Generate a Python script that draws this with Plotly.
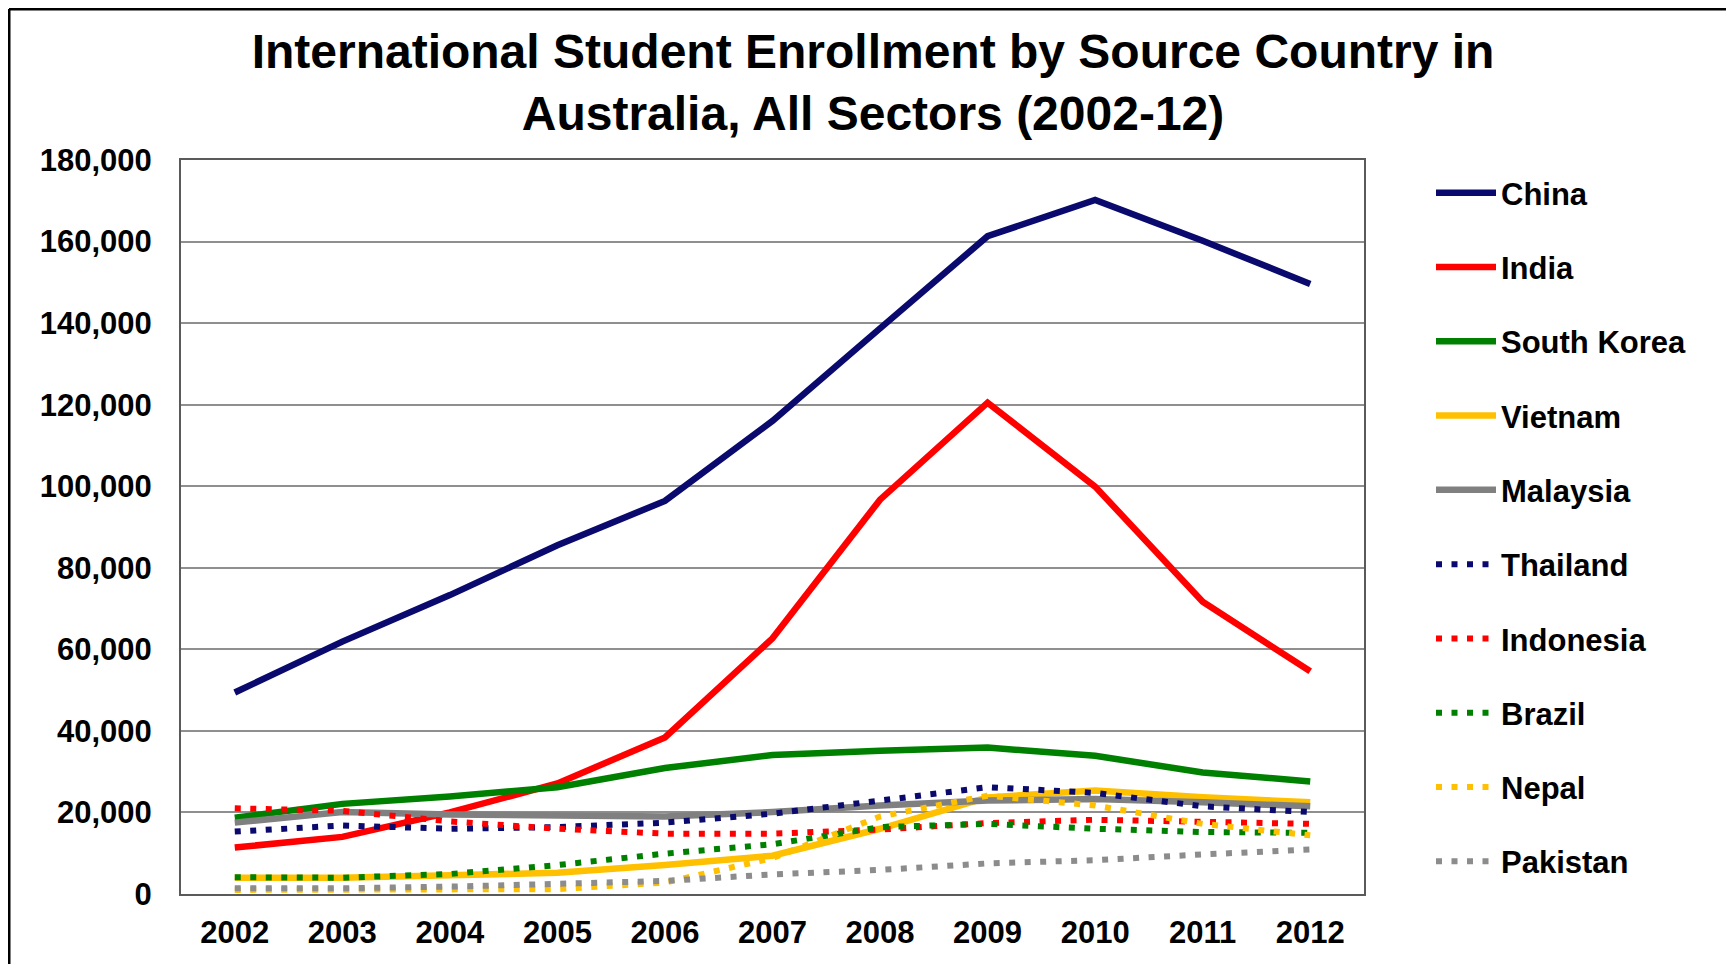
import plotly.graph_objects as go

years = ["2002", "2003", "2004", "2005", "2006", "2007", "2008", "2009", "2010", "2011", "2012"]

china = [49400, 61900, 73300, 85500, 96400, 116000, 138700, 161300, 170200, 160200, 149600]
india = [11400, 14000, 20000, 27100, 38400, 62700, 96700, 120500, 99900, 71700, 54600]
south_korea = [18700, 22100, 23900, 26200, 30900, 34100, 35100, 35900, 33900, 29800, 27600]
vietnam = [4000, 4000, 4600, 5200, 7100, 9400, 16000, 23700, 25400, 23700, 22500]
malaysia = [17500, 20100, 19500, 19300, 19000, 20100, 21700, 22900, 23300, 22500, 21500]
thailand = [15300, 16800, 16000, 16400, 17500, 19700, 22900, 26200, 24800, 21500, 20100]
indonesia = [21000, 20400, 17800, 16000, 14800, 14800, 15800, 17400, 18200, 17600, 17200]
brazil = [4100, 4000, 4900, 7100, 9900, 12200, 16400, 17200, 16000, 15200, 15000]
nepal = [1000, 1000, 1200, 1200, 2800, 8800, 19000, 24100, 21700, 17200, 14400]
pakistan = [1400, 1400, 1800, 2400, 3200, 4800, 5900, 7500, 8300, 9700, 10900]

series = [
    ("China", china, "#0A0A6E", "solid"),
    ("India", india, "#FF0000", "solid"),
    ("South Korea", south_korea, "#008000", "solid"),
    ("Vietnam", vietnam, "#FFC000", "solid"),
    ("Malaysia", malaysia, "#808080", "solid"),
    ("Thailand", thailand, "#0A0A6E", "6px,9.5px"),
    ("Indonesia", indonesia, "#FF0000", "6px,9.5px"),
    ("Brazil", brazil, "#008000", "6px,9.5px"),
    ("Nepal", nepal, "#FFC000", "6px,9.5px"),
    ("Pakistan", pakistan, "#8C8C8C", "6px,9.5px"),
]

FONT = "Liberation Sans, Arial, sans-serif"

fig = go.Figure()
for name, vals, color, dash in series:
    fig.add_trace(go.Scatter(
        x=years, y=vals, name=name, mode="lines",
        line=dict(color=color, width=6.5 if dash == "solid" else 6, dash=dash),
        legendgroup=name,
    ))

# plot area geometry in figure pixels (page has an 8px body offset)
L, R, T, B = 173, 1356, 152, 886
W, H = 1734, 964

def px_x(p):
    return (p - L) / (R - L)

def px_y(p):
    return (B - p) / (B - T)

fig.update_layout(
    width=W, height=H,
    margin=dict(l=L, r=W - R, t=T, b=H - B, autoexpand=False),
    paper_bgcolor="white", plot_bgcolor="white",
    font=dict(family=FONT, color="black", size=31, weight="bold"),
    title=dict(
        text="International Student Enrollment by Source Country in<br>Australia, All Sectors (2002-12)",
        font=dict(family=FONT, size=48, color="black", weight="bold"),
        x=px_x(865), xref="paper", xanchor="center",
        y=1 - 60 / H, yref="container", yanchor="top",
    ),
    xaxis=dict(
        type="category", range=[-0.5, 10.5], automargin=False,
        showgrid=False, showline=True, linecolor="#5A5A5A", linewidth=2, mirror=True,
        ticks="", tickfont=dict(size=31, weight="bold", family=FONT),
        ticklabelstandoff=10,
    ),
    yaxis=dict(
        range=[0, 180000], dtick=20000, tickformat=",", automargin=False,
        showgrid=True, gridcolor="#8F8F8F", gridwidth=1.5,
        showline=True, linecolor="#5A5A5A", linewidth=2, mirror=True,
        zeroline=False, ticks="", tickfont=dict(size=31, weight="bold", family=FONT),
        ticklabelstandoff=21,
    ),
    legend=dict(
        x=px_x(1423), xanchor="left", y=px_y(158), yanchor="top",
        font=dict(size=31, weight="bold", family=FONT),
        tracegroupgap=31, itemwidth=60, bgcolor="rgba(0,0,0,0)",
        maxheight=900,
    ),
    showlegend=True,
)

# outer frame lines (top and left edges of the picture frame)
fig.add_shape(type="line", xref="paper", yref="paper",
              x0=px_x(1), x1=px_x(W + 5), y0=px_y(1), y1=px_y(1),
              line=dict(color="black", width=3))
fig.add_shape(type="line", xref="paper", yref="paper",
              x0=px_x(1), x1=px_x(1), y0=px_y(1), y1=px_y(H + 5),
              line=dict(color="black", width=3))

fig.write_html("out.html")
